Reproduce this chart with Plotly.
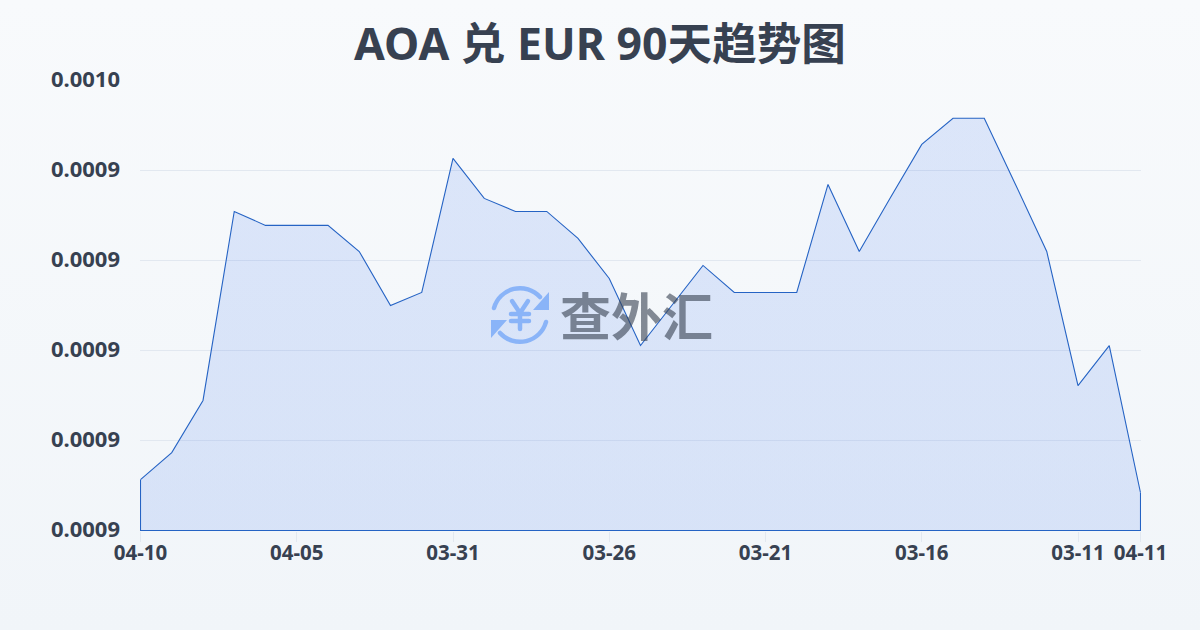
import base64
import plotly.graph_objects as go

title = "AOA 兑 EUR 90天趋势图"
watermark = "查外汇"
values = [0.0008613, 0.0008673, 0.0008789, 0.0009209, 0.0009178, 0.0009178, 0.0009178,
          0.0009120, 0.0009000, 0.0009029, 0.0009327, 0.0009238, 0.0009209, 0.0009209,
          0.0009149, 0.0009060, 0.0008911, 0.0009000, 0.0009089, 0.0009029, 0.0009029,
          0.0009029, 0.0009269, 0.0009120, 0.0009240, 0.0009358, 0.0009416, 0.0009416,
          0.0009269, 0.0009120, 0.0008822, 0.0008911, 0.0008584]
x_index = list(range(len(values)))
x_tick_pos = [0, 5, 10, 15, 20, 25, 30, 32]
x_tick_labels = ["04-10", "04-05", "03-31", "03-26", "03-21", "03-16", "03-11", "04-11"]
y_tick_pos = [0.00085, 0.00087, 0.00089, 0.00091, 0.00093, 0.00095]
y_tick_labels = ["0.0009", "0.0009", "0.0009", "0.0009", "0.0009", "0.0010"]
y_min, y_max = 0.00085, 0.00095

LINE = "#2563c4"
TEXT = "#374151"
FONT = "Noto Sans, Noto Sans CJK SC, sans-serif"

# Half-pixel padding keeps the outline and grid on crisp pixel rows.
PLOT_W, PLOT_H = 1001, 451
half_x = 0.5 * (x_index[-1] - x_index[0]) / (PLOT_W - 1)
half_y = 0.5 * (y_max - y_min) / (PLOT_H - 1)

bg_svg = ('<svg xmlns="http://www.w3.org/2000/svg" width="1200" height="630" preserveAspectRatio="none">'
          '<defs><linearGradient id="g" x1="0" y1="0" x2="0" y2="1">'
          '<stop offset="0" stop-color="#f8fafc"/><stop offset="1" stop-color="#f1f5f9"/>'
          '</linearGradient></defs><rect width="1200" height="630" fill="url(#g)"/></svg>')
icon_svg = ('<svg xmlns="http://www.w3.org/2000/svg" viewBox="0 0 60 60" width="240" height="240">'
            '<g fill="none" stroke="#8ab4f8" stroke-width="4.5" stroke-linecap="round" stroke-linejoin="round">'
            '<path d="M4 23 A27 27 0 0 1 50 12"/><path d="M56 37 A27 27 0 0 1 10 48"/>'
            '<path d="M22 16 L30 28 L38 16 M30 28 V44 M21 29 H39 M21 36 H39"/></g>'
            '<path d="M59 7 V25 H43 Z M1 53 V35 H17 Z" fill="#8ab4f8"/></svg>')


def uri(svg):
    return "data:image/svg+xml;base64," + base64.b64encode(svg.encode()).decode()


fig = go.Figure()
fig.add_trace(go.Scatter(
    x=x_index, y=values, mode="lines", fill="tozeroy",
    line=dict(color=LINE, width=1.1),
    fillgradient=dict(type="vertical",
                      colorscale=[[0, "rgba(37,99,235,0.13)"], [1, "rgba(37,99,235,0.13)"]]),
    hoverinfo="skip", showlegend=False,
))
fig.add_trace(go.Scatter(
    x=[x_index[0], x_index[0], x_index[-1], x_index[-1]],
    y=[values[0], y_min, y_min, values[-1]],
    mode="lines", line=dict(color=LINE, width=1.1), cliponaxis=False,
    hoverinfo="skip", showlegend=False,
))

fig.update_layout(
    width=1200, height=630,
    margin=dict(l=140, r=59, t=80, b=99, autoexpand=False),
    paper_bgcolor="#f5f7fa", plot_bgcolor="rgba(0,0,0,0)",
    font=dict(family=FONT, color=TEXT),
    title=dict(text=title, x=0.5, xanchor="center", y=0.93, yanchor="middle",
               font=dict(family=FONT, size=44.6, color=TEXT, weight=700)),
    xaxis=dict(range=[x_index[0] - half_x, x_index[-1] + half_x],
               tickmode="array", tickvals=x_tick_pos, ticktext=x_tick_labels,
               showgrid=False, zeroline=False, showline=False,
               ticks="outside", ticklen=10, tickwidth=1, tickcolor="#e2e8f0",
               ticklabelstandoff=-7,
               tickangle=0, tickfont=dict(family=FONT, size=20.5, color=TEXT, weight=700)),
    yaxis=dict(range=[y_min - half_y, y_max + half_y],
               tickmode="array", tickvals=y_tick_pos, ticktext=y_tick_labels,
               showgrid=True, gridcolor="#e2e8f0", gridwidth=1, zeroline=False, showline=False,
               ticks="", ticklabelstandoff=19, ticklabelshift=-1,
               tickfont=dict(family=FONT, size=22, color=TEXT, weight=700)),
    images=[
        dict(source=uri(bg_svg), xref="paper", yref="paper", x=-140 / PLOT_W, y=531 / PLOT_H,
             sizex=1200 / PLOT_W, sizey=630 / PLOT_H, sizing="stretch",
             xanchor="left", yanchor="top", layer="below"),
        dict(source=uri(icon_svg), xref="paper", yref="paper", x=350 / PLOT_W, y=(531 - 285) / PLOT_H,
             sizex=60 / PLOT_W, sizey=60 / PLOT_H, sizing="contain",
             xanchor="left", yanchor="top", layer="above"),
    ],
    annotations=[dict(text=watermark, xref="paper", yref="paper", x=(636 - 140) / PLOT_W,
                      y=(531 - 316) / PLOT_H, showarrow=False, xanchor="center", yanchor="middle",
                      opacity=0.6, font=dict(family=FONT, size=51, color=TEXT, weight=700))],
)
fig.write_html("out.html", config={"displayModeBar": False},
               post_script="document.body.style.margin='0';document.documentElement.style.overflow='hidden';")
